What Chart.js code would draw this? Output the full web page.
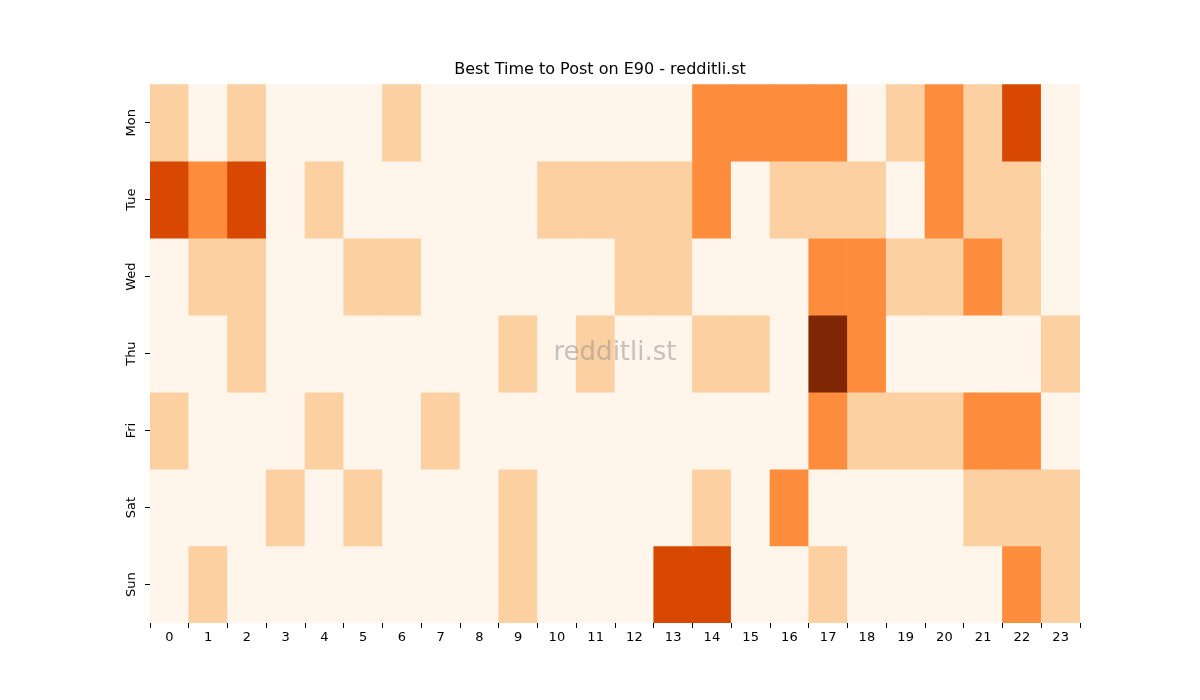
<!DOCTYPE html>
<html><head><meta charset="utf-8">
<script src="https://cdn.jsdelivr.net/npm/chart.js@4"></script>
<style>html,body{margin:0;padding:0;background:#fff}#w{width:1200px;height:700px}</style>
</head><body><div id="w"><canvas id="c"></canvas></div>
<script>
const hours = ["0","1","2","3","4","5","6","7","8","9","10","11","12","13","14","15","16","17","18","19","20","21","22","23"];
const days = ["Mon","Tue","Wed","Thu","Fri","Sat","Sun"];
const mon = [1,0,1,0,0,0,1,0,0,0,0,0,0,0,2,2,2,2,0,1,2,1,3,0];
const tue = [3,2,3,0,1,0,0,0,0,0,1,1,1,1,2,0,1,1,1,0,2,1,1,0];
const wed = [0,1,1,0,0,1,1,0,0,0,0,0,1,1,0,0,0,2,2,1,1,2,1,0];
const thu = [0,0,1,0,0,0,0,0,0,1,0,1,0,0,1,1,0,4,2,0,0,0,0,1];
const fri = [1,0,0,0,1,0,0,1,0,0,0,0,0,0,0,0,0,2,1,1,1,2,2,0];
const sat = [0,0,0,1,0,1,0,0,0,1,0,0,0,0,1,0,2,0,0,0,0,1,1,1];
const sun = [0,1,0,0,0,0,0,0,0,1,0,0,0,3,3,0,0,1,0,0,0,0,2,1];
const rows = [mon,tue,wed,thu,fri,sat,sun];
const palette = ['#fff5eb','#fdd0a2','#fd8d3c','#d94801','#7f2704'];

const datasets = rows.map((r,i)=>({
  label: days[i],
  data: r.map(()=>1),
  backgroundColor: r.map(v=>palette[v]),
  borderWidth: 0,
  categoryPercentage: 1.0,
  barPercentage: 1.0
}));

const extras = {
  id:'extras',
  afterDraw(chart){
    const ctx = chart.ctx, y = chart.scales.y, a = chart.chartArea;
    ctx.save();
    ctx.fillStyle = '#000';
    ctx.font = '13px "DejaVu Sans"';
    ctx.textAlign = 'center'; ctx.textBaseline = 'middle';
    days.forEach((d,i)=>{
      const py = y.getPixelForValue(i+0.5);
      ctx.save(); ctx.translate(a.left-18, py); ctx.rotate(-Math.PI/2);
      ctx.fillText(d,0,0); ctx.restore();
    });
    ctx.font = '26px "DejaVu Sans"';
    ctx.fillStyle = 'rgba(150,150,150,0.55)';
    ctx.fillText('redditli.st', (a.left+a.right)/2, (a.top+a.bottom)/2);
    ctx.restore();
  }
};

new Chart(document.getElementById('c'), {
  type:'bar',
  data:{labels:hours, datasets},
  options:{
    responsive:true, maintainAspectRatio:false, animation:false,
    layout:{padding:{left:120,right:120,top:0,bottom:37}},
    plugins:{
      legend:{display:false}, tooltip:{enabled:false},
      title:{display:true,text:'Best Time to Post on E90 - redditli.st',color:'#000',
        font:{family:'DejaVu Sans',size:16,weight:'normal'},padding:{top:60,bottom:5}}
    },
    scales:{
      x:{stacked:true,
        grid:{display:true,drawOnChartArea:false,drawTicks:true,tickLength:5,color:'#000'},
        border:{display:false},
        ticks:{color:'#000',font:{family:'DejaVu Sans',size:13},maxRotation:0,autoSkip:false,padding:2},
        afterFit(s){s.height=40;}
      },
      y:{stacked:true,min:0,max:7,reverse:true,
        afterBuildTicks(s){s.ticks=days.map((d,i)=>({value:i+0.5}));},
        grid:{display:true,drawOnChartArea:false,drawTicks:true,tickLength:5,color:'#000'},
        border:{display:false},
        ticks:{callback:()=> '',autoSkip:false},
        afterFit(s){s.width=30;}
      }
    }
  },
  plugins:[extras]
});
</script></body></html>
